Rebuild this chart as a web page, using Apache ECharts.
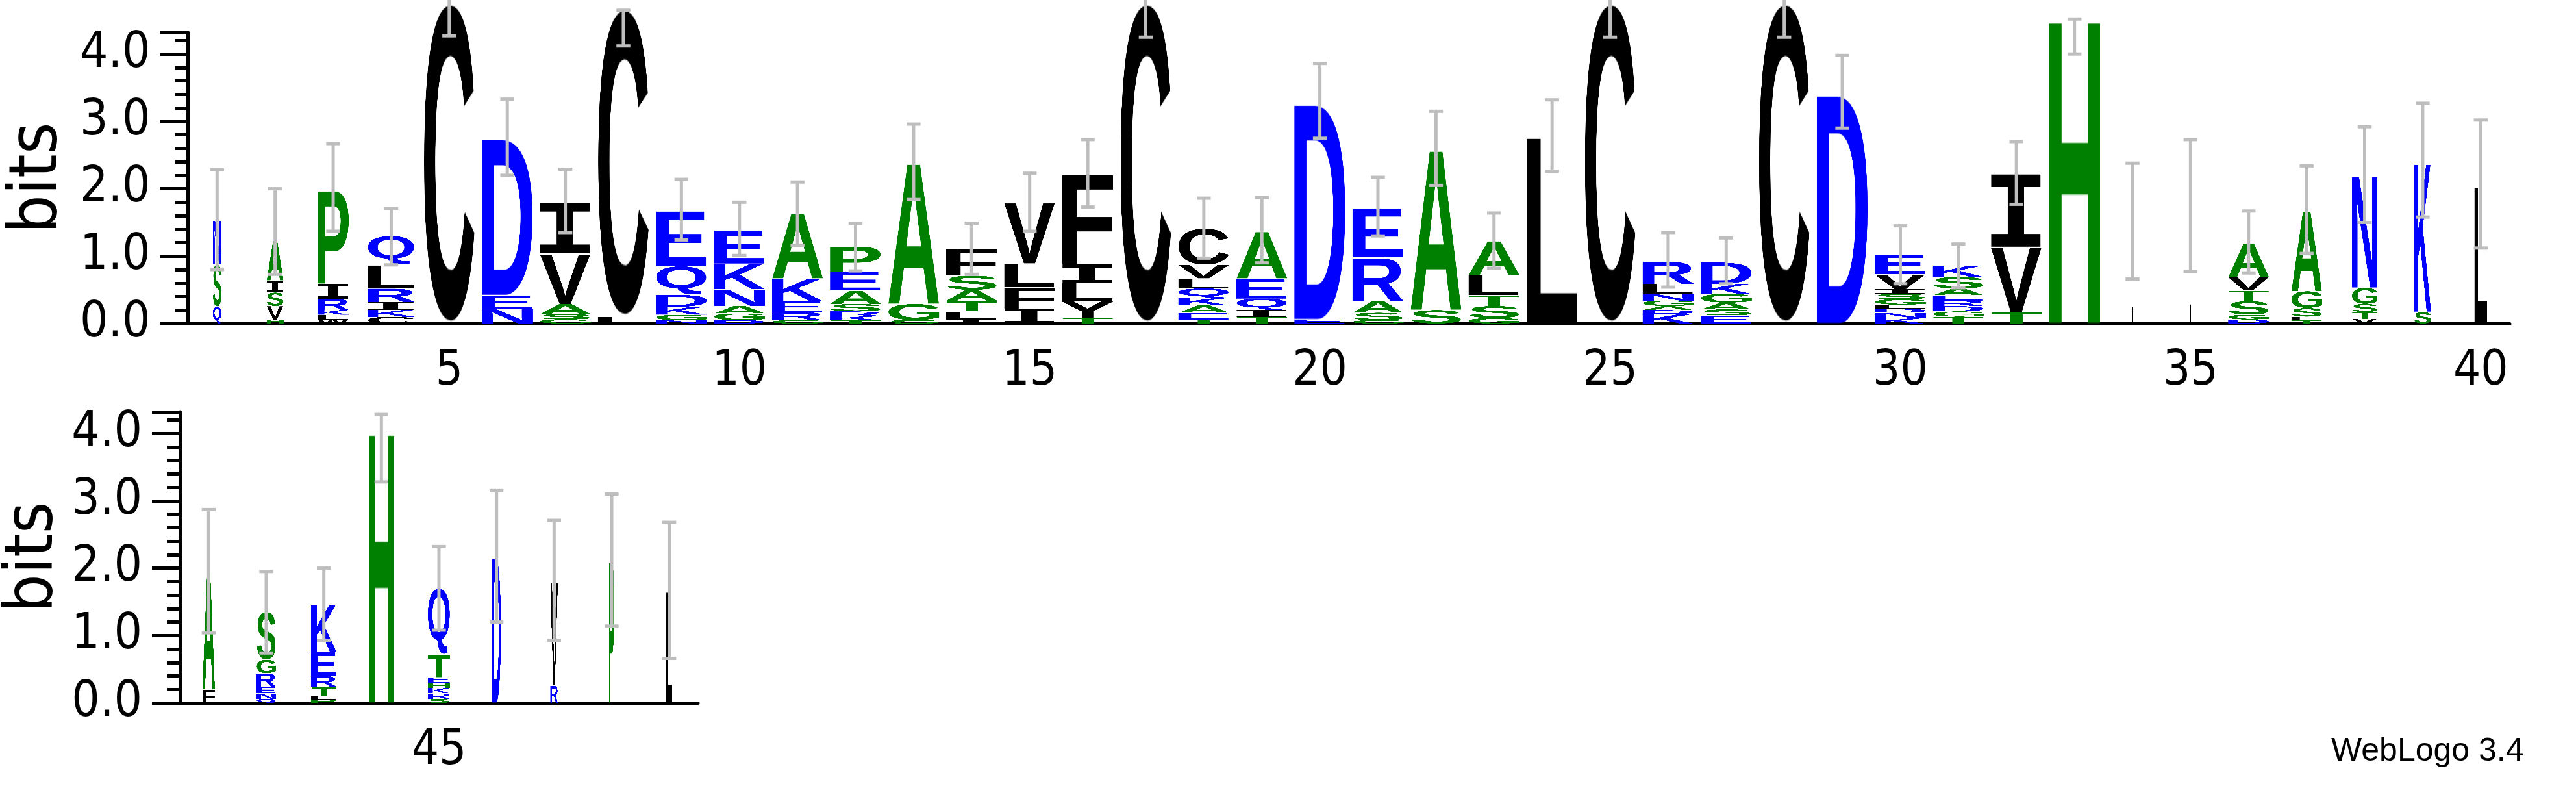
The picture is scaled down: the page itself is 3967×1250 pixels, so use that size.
<!DOCTYPE html>
<html>
<head>
<meta charset="utf-8">
<script src="https://cdn.jsdelivr.net/npm/echarts@6/dist/echarts.min.js"></script>
<style>html,body{margin:0;padding:0;background:#fff}#chart{width:3967px;height:1250px}</style>
</head>
<body>
<div id="chart"></div>
<script>
// positions of the two logo lines
var topPositions = [];
for (var i = 1; i <= 40; i++) topPositions.push(String(i));
var bottomPositions = ['41','42','43','44','45','46','47','48','49'];

// letters of each stack, bottom -> top, and their heights in bits
var stackLetters = [
  'QSN','HVSIA','WLKRIP','CKIRLQ','C','NED','GSAVI','LC','NGKDQE','DGANKE',
  'GREKA','TKRSAEP','SGA','ILTASF','IFLV','TYLIF','C','TEAKQLVC','TIQEA','ED',
  'GSARE','SA','GSTLA','L','C','KDAGNLR','ESAGKD','C','D','KNDLGSIVE',
  'TGDREASK','TVI','H','L','L','DGSTVA','TLSGA','VTSGN','SK','L',
  'FA','QNERGS','PLTREK','H','SRKHETQ','D','RV','P','L'
];
var stackHeights = [
  [0.25,0.63,0.66],[0.06,0.2,0.2,0.18,0.6],[0.06,0.07,0.07,0.17,0.22,1.4],[0.1,0.1,0.12,0.2,0.35,0.43],[4.75],
  [0.22,0.2,2.35],[0.06,0.08,0.15,0.75,0.76],[0.1,4.57],[0.05,0.08,0.12,0.18,0.42,0.83],[0.05,0.1,0.11,0.25,0.38,0.5],
  [0.05,0.12,0.16,0.34,0.97],[0.05,0.06,0.07,0.11,0.2,0.28,0.38],[0.05,0.24,2.11],[0.06,0.12,0.16,0.16,0.21,0.4],[0.22,0.32,0.35,0.91],
  [0.08,0.25,0.27,0.28,1.35],[4.75],[0.06,0.1,0.11,0.11,0.14,0.15,0.2,0.54],[0.1,0.1,0.17,0.3,0.7],[0.06,3.24],
  [0.05,0.11,0.17,0.65,0.74],[0.2,2.4],[0.08,0.18,0.16,0.3,0.51],[2.8],[4.75],
  [0.14,0.06,0.06,0.08,0.1,0.15,0.33],[0.12,0.09,0.1,0.13,0.15,0.32],[4.75],[3.44],[0.08,0.08,0.06,0.06,0.08,0.08,0.07,0.22,0.3],
  [0.1,0.08,0.08,0.08,0.08,0.1,0.17,0.17],[0.17,0.97,1.08],[4.55],[1.52],[1.75],
  [0.06,0.07,0.2,0.16,0.2,0.51],[0.05,0.05,0.13,0.25,1.2],[0.07,0.1,0.12,0.24,1.68],[0.17,2.23],[2.06],
  [0.2,1.78],[0.06,0.08,0.1,0.2,0.2,0.71],[0.05,0.05,0.14,0.16,0.36,0.7],[4.05],[0.06,0.08,0.08,0.08,0.08,0.34,0.98],
  [2.18],[0.26,1.55],[2.12],[1.67]
];
// relative stack widths (column occupancy)
var stackWidths = [
  0.17,0.33,0.62,0.92,1,1,1,1,1,1,
  1,1,1,1,1,1,1,1,1,1,
  1,1,1,1,1,1,1,1,1,1,
  1,1,1,0.03,0.02,0.8,0.6,0.5,0.33,0.25,
  0.25,0.38,0.5,0.5,0.44,0.17,0.15,0.1,0.12
];
var errLow = [
  0.80,0.73,1.37,0.87,4.27,2.2,1.35,4.12,1.24,1.01,
  1.16,0.78,1.84,0.73,1.37,1.73,4.25,0.97,0.9,2.75,
  1.3,2.05,0.82,2.26,4.25,0.54,0.59,4.25,2.9,0.59,
  0.53,1.77,4.0,0.66,0.77,0.75,1.04,1.5,1.58,1.12,
  1.04,0.74,0.93,3.28,1.08,1.2,0.93,1.14,0.66
];
var errHigh = [
  2.28,2.0,2.67,1.71,4.9,3.33,2.29,4.65,2.14,1.8,
  2.1,1.49,2.96,1.49,2.23,2.73,4.9,1.86,1.87,3.86,
  2.17,3.15,1.64,3.32,4.9,1.35,1.27,4.9,3.98,1.45,
  1.18,2.7,4.52,2.38,2.73,1.67,2.34,2.92,3.27,3.02,
  2.87,1.95,2.0,4.28,2.32,3.15,2.71,3.1,2.68
];
var yTicks = [0, 1, 2, 3, 4];

var colorOf = function (ch) {
  if ('DEKRNQ'.indexOf(ch) >= 0) return '#0000FF';
  if ('AGSTPH'.indexOf(ch) >= 0) return '#008000';
  return '#000000';
};

// glyph images cropped to the ink box, stretched later into each cell
var glyphCache = {};
function glyph(ch) {
  if (glyphCache[ch]) return glyphCache[ch];
  var font = ch === 'I' ? 'bold 400px "DejaVu Sans Mono"' : 'bold 400px "Liberation Sans"';
  var c = document.createElement('canvas');
  var ctx = c.getContext('2d');
  ctx.font = font;
  var m = ctx.measureText(ch);
  var L = m.actualBoundingBoxLeft, R = m.actualBoundingBoxRight;
  var A = m.actualBoundingBoxAscent, D = m.actualBoundingBoxDescent;
  c.width = Math.ceil(L + R);
  c.height = Math.ceil(A + D);
  ctx = c.getContext('2d');
  ctx.font = font;
  ctx.fillStyle = colorOf(ch);
  ctx.textBaseline = 'alphabetic';
  ctx.fillText(ch, L, A);
  glyphCache[ch] = c;
  return c;
}

// flatten stacks into marks
var marksTop = [], marksBottom = [], errTop = [], errBottom = [];
stackLetters.forEach(function (letters, p) {
  var y = 0;
  var isTop = p < 40;
  var cat = isTop ? p : p - 40;
  for (var k = 0; k < letters.length; k++) {
    var h = stackHeights[p][k];
    (isTop ? marksTop : marksBottom).push({value: [cat, y, y + h], ch: letters[k], w: stackWidths[p]});
    y += h;
  }
  (isTop ? errTop : errBottom).push([cat, errLow[p], errHigh[p]]);
});

function renderLetter(list) {
  return function (params, api) {
    var m = list[params.dataIndex];
    var p0 = api.coord([api.value(0), api.value(1)]);
    var p1 = api.coord([api.value(0), api.value(2)]);
    var band = api.size([1, 0])[0];
    var w = band * 0.89 * m.w;
    return {
      type: 'image',
      style: {image: glyph(m.ch), x: p0[0] - w / 2, y: p1[1], width: w, height: Math.max(p0[1] - p1[1], 0.5)}
    };
  };
}

function renderErr(params, api) {
  var lo = api.coord([api.value(0), api.value(1)]);
  var hi = api.coord([api.value(0), api.value(2)]);
  var cap = api.size([1, 0])[0] * 0.12;
  var st = {stroke: '#BEBEBE', lineWidth: 5};
  return {
    type: 'group',
    children: [
      {type: 'line', shape: {x1: lo[0], y1: lo[1], x2: hi[0], y2: hi[1]}, style: st},
      {type: 'line', shape: {x1: lo[0] - cap, y1: lo[1], x2: lo[0] + cap, y2: lo[1]}, style: st},
      {type: 'line', shape: {x1: hi[0] - cap, y1: hi[1], x2: hi[0] + cap, y2: hi[1]}, style: st}
    ]
  };
}

var narrow = '"Liberation Sans Narrow", "DejaVu Sans Condensed", "Liberation Sans"';
var labelFont = {fontFamily: narrow, color: '#000'};

function xAxes(gridIndex, cats) {
  var isMajor = function (idx, val) { return Number(val) % 5 === 0; };
  return [
    {
      type: 'category', gridIndex: gridIndex, data: cats, position: 'bottom', offset: 0,
      axisLine: {lineStyle: {color: '#000', width: 5}},
      axisTick: {alignWithLabel: true, interval: 0, length: 11, lineStyle: {width: 4, color: '#000'}},
      axisLabel: {show: false}
    },
    {
      type: 'category', gridIndex: gridIndex, data: cats, position: 'bottom', offset: 0,
      axisLine: {show: false},
      axisTick: {alignWithLabel: true, interval: isMajor, length: 22, lineStyle: {width: 4, color: '#000'}},
      axisLabel: Object.assign({interval: isMajor, fontSize: 74, margin: 38}, labelFont)
    }
  ];
}

function yAxis(gridIndex) {
  return {
    type: 'value', gridIndex: gridIndex, min: 0, max: 4.32, interval: 1,
    name: 'bits', nameLocation: 'middle', nameRotate: 90, nameGap: 172,
    nameTextStyle: Object.assign({fontSize: 104}, labelFont),
    axisLine: {show: true, lineStyle: {color: '#000', width: 5}},
    axisTick: {show: true, length: 43, lineStyle: {width: 5, color: '#000'}},
    minorTick: {show: true, splitNumber: 5, length: 20, lineStyle: {width: 5, color: '#000'}},
    splitLine: {show: false},
    axisLabel: Object.assign({fontSize: 76, margin: 58, formatter: function (v) {
      return yTicks.indexOf(v) >= 0 ? v.toFixed(1) : '';
    }}, labelFont)
  };
}

var chart = echarts.init(document.getElementById('chart'), null, {renderer: 'canvas'});
chart.setOption({
  backgroundColor: '#fff',
  animation: false,
  grid: [
    {left: 263, right: 102, top: 50, height: 448},
    {left: 263, width: 812, top: 634, height: 448}
  ],
  xAxis: xAxes(0, topPositions).concat(xAxes(1, bottomPositions)),
  yAxis: [yAxis(0), yAxis(1)],
  graphic: [{
    type: 'text', left: 3590, top: 1132,
    style: {text: 'WebLogo 3.4', font: '50px "Liberation Sans"', fill: '#000'}
  }],
  series: [
    {type: 'custom', xAxisIndex: 0, yAxisIndex: 0, data: marksTop, renderItem: renderLetter(marksTop), clip: false},
    {type: 'custom', xAxisIndex: 2, yAxisIndex: 1, data: marksBottom, renderItem: renderLetter(marksBottom), clip: false},
    {type: 'custom', xAxisIndex: 0, yAxisIndex: 0, data: errTop, renderItem: renderErr, clip: false, z: 3},
    {type: 'custom', xAxisIndex: 2, yAxisIndex: 1, data: errBottom, renderItem: renderErr, clip: false, z: 3}
  ]
});
</script>
</body>
</html>
